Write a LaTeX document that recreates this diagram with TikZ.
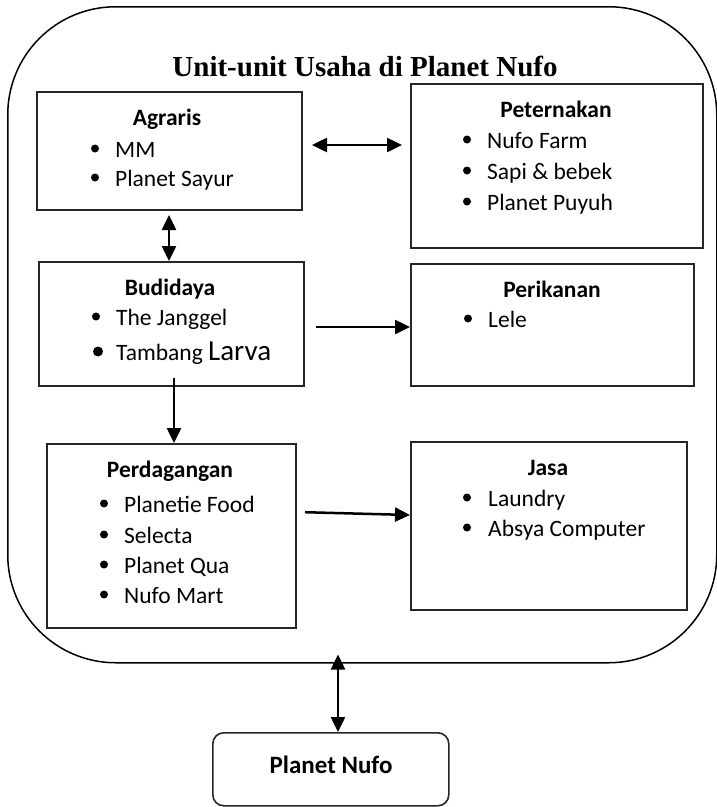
\documentclass[tikz,border=0pt]{standalone}
\usepackage{fontspec}
\setmainfont{Carlito}
\newfontfamily\titlefont{Liberation Serif}
\usetikzlibrary{arrows.meta}
\newcommand\itm[6]{\node[bul,minimum size=#6pt] (#1b) at (#2,#4-8.5) {}; \node[item] (#1) at (#3,#4) {#5};}
\begin{document}
\begin{tikzpicture}[x=1pt,y=-1pt,
 box/.style={draw=black!85, line width=2pt, inner sep=0pt, anchor=north west},
 hd/.style={anchor=base, font=\fontsize{23.5}{28}\selectfont\bfseries, inner sep=0pt},
 item/.style={anchor=base west, font=\fontsize{23.5}{28}\selectfont, inner sep=0pt},
 bul/.style={circle, fill=black, inner sep=0pt},
 arr/.style={line width=2.5pt, -{Triangle[length=15pt,width=14pt]}},
 dbl/.style={line width=2.5pt, {Triangle[length=15pt,width=14pt]}-{Triangle[length=15pt,width=14pt]}},
]
\useasboundingbox (0,0) rectangle (717,807);
% outer frame
\node[draw, line width=1.5pt, rounded corners=108pt, inner sep=0pt, anchor=north west,
  minimum width=709pt, minimum height=656pt] (outer) at (7,6) {};
\node[anchor=base, inner sep=0pt, font=\titlefont\fontsize{29}{34}\selectfont\bfseries] (title) at (365,76) {Unit-unit Usaha di Planet Nufo};
% boxes
\node[box, minimum width=265pt, minimum height=118pt] (agr) at (36,91) {};
\node[box, minimum width=292pt, minimum height=164pt] (pet) at (410,83) {};
\node[box, minimum width=265pt, minimum height=124pt] (bud) at (38,261) {};
\node[box, minimum width=283pt, minimum height=122pt] (per) at (410,263) {};
\node[box, minimum width=249pt, minimum height=184pt] (dag) at (46,443) {};
\node[box, minimum width=276pt, minimum height=168pt] (jasa) at (410,441) {};
\node[box, line width=1.6pt, rounded corners=11pt, minimum width=236pt, minimum height=73pt] (nufo) at (212,732) {};
% Agraris
\node[hd] (agrt) at (167,125) {Agraris};
\itm{a1}{95}{115}{157}{MM}{8}
\itm{a2}{95}{115}{186}{Planet Sayur}{8}
% Peternakan
\node[hd] (pett) at (556,117) {Peternakan};
\itm{p1}{467}{487}{148}{Nufo Farm}{8}
\itm{p2}{467}{487}{179}{Sapi \& bebek}{8}
\itm{p3}{467}{487}{210}{Planet Puyuh}{8}
% Budidaya
\node[hd] (budt) at (170,295) {Budidaya};
\itm{b1}{96}{116}{325}{The Janggel}{8}
\itm{b2}{98}{116}{360}{Tambang {\fontsize{29}{34}\selectfont Larva}}{10}
% Perikanan
\node[hd] (pert) at (552,297) {Perikanan};
\itm{k1}{468}{488}{327}{Lele}{8}
% Perdagangan
\node[hd] (dagt) at (170,477) {Perdagangan};
\itm{d1}{104}{124}{512}{Planetie Food}{8}
\itm{d2}{104}{124}{543}{Selecta}{8}
\itm{d3}{104}{124}{573}{Planet Qua}{8}
\itm{d4}{104}{124}{603}{Nufo Mart}{8}
% Jasa
\node[hd] (jasat) at (548,475) {Jasa};
\itm{j1}{467}{488}{506}{Laundry}{8}
\itm{j2}{467}{488}{536}{Absya Computer}{8}
% Planet Nufo
\node[anchor=base, inner sep=0pt, font=\fontsize{25}{30}\selectfont\bfseries] (nufot) at (331,773) {Planet Nufo};
% connectors
\draw[dbl, shorten <=9pt, shorten >=8pt] (agr.east |- 0,145) -- (pet.west |- 0,145);
\draw[dbl, shorten <=4pt] (agr.south -| 169,0) -- (bud.north -| 169,0);
\draw[arr, shorten <=11pt] (bud.east |- 0,327) -- (per.west |- 0,327);
\draw[arr, shorten <=-9pt] (bud.south -| 174,0) -- (dag.north -| 174,0);
\draw[arr, shorten <=8pt] (dag.east |- 0,512) -- (jasa.west |- 0,515);
\draw[dbl, shorten <=-9pt] (outer.south -| 338,0) -- (nufo.north -| 338,0);
\end{tikzpicture}
\end{document}
